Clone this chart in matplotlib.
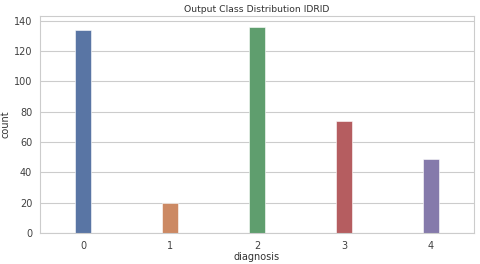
import matplotlib
matplotlib.use("Agg")
import matplotlib.pyplot as plt
import seaborn as sns

# class counts per diagnosis grade
diagnosis = ["0", "1", "2", "3", "4"]
counts    = [134, 20, 136, 74, 49]
colors    = ["#4C72B0", "#DD8452", "#55A868", "#C44E52", "#8172B3"]

sns.set_style("whitegrid")
plt.rcParams['font.family'] = ['DejaVu Sans']

# countplot draws its bars at 0.75 saturation
bar_colors = [sns.desaturate(c, 0.75) for c in colors]

fig = plt.figure(figsize=(4.8, 2.64), dpi=100)
ax = fig.add_axes([0.083, 0.117, 0.905, 0.822])

ax.bar(range(len(diagnosis)), counts, width=0.18, color=bar_colors,
       edgecolor="white", linewidth=0.4, zorder=2)
ax.set_xticks(range(len(diagnosis)))
ax.set_xticklabels(diagnosis)
ax.set_xlim(-0.5, len(diagnosis) - 0.5)
ax.set_ylim(0, 143)
ax.set_yticks(range(0, 141, 20))
ax.grid(axis="x", visible=False)
ax.tick_params(labelsize=7, colors=".25", pad=2)
ax.set_xlabel("diagnosis", fontsize=7, color=".2", labelpad=1)
ax.set_ylabel("count", fontsize=7, color=".2", labelpad=2)
ax.set_title("Output Class Distribution IDRID", fontsize=6.7, color=".2", pad=3)

fig.savefig("out.png", dpi=100)
